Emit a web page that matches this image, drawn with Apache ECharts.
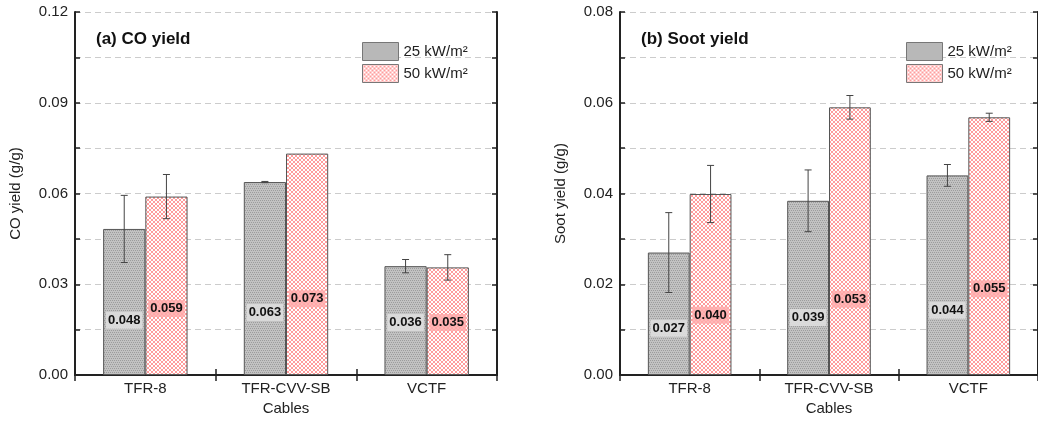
<!DOCTYPE html>
<html>
<head>
<meta charset="utf-8">
<script src="https://cdn.jsdelivr.net/npm/echarts@6/dist/echarts.min.js"></script>
<style>
html,body{margin:0;padding:0;background:#fff;}
#chart{width:1038px;height:421px;}
</style>
</head>
<body>
<div id="chart"></div>
<script>
// ---- data ----
const categories = ['TFR-8', 'TFR-CVV-SB', 'VCTF'];
const seriesNames = ['25 kW/m²', '50 kW/m²'];

// (a) CO yield
const co25 = [0.0483, 0.0638, 0.0360];
const co50 = [0.0590, 0.0732, 0.0356];
const co25Err = [0.0111, 0.0002, 0.0022];
const co50Err = [0.0073, 0, 0.0042];
const co25Labels = ['0.048', '0.063', '0.036'];
const co50Labels = ['0.059', '0.073', '0.035'];
const co25LabelAt = [0.0181, 0.0207, 0.0174];
const co50LabelAt = [0.0220, 0.0252, 0.0174];

// (b) Soot yield
const soot25 = [0.0270, 0.0384, 0.0440];
const soot50 = [0.0399, 0.0590, 0.0568];
const soot25Err = [0.0088, 0.0068, 0.0024];
const soot50Err = [0.0063, 0.0026, 0.0009];
const soot25Labels = ['0.027', '0.039', '0.044'];
const soot50Labels = ['0.040', '0.053', '0.055'];
const soot25LabelAt = [0.0103, 0.0127, 0.0143];
const soot50LabelAt = [0.0132, 0.0167, 0.0190];

// ---- patterns ----
function makePattern(bg, fg, pts) {
  const c = document.createElement('canvas');
  c.width = 4; c.height = 4;
  const ctx = c.getContext('2d');
  ctx.fillStyle = bg; ctx.fillRect(0, 0, 4, 4);
  ctx.fillStyle = fg;
  pts.forEach(p => ctx.fillRect(p[0], p[1], 1, 1));
  return c;
}
const grayPat = makePattern('#c2c2c2', '#9c9c9c', [[0,0],[2,0],[1,2],[3,2]]);
const pinkPat = makePattern('#ffffff', '#ff9c9c', [[0,0],[1,1],[2,2],[3,3],[3,0],[2,1],[1,2],[0,3]]);
const grayFill = {image: grayPat, repeat: 'repeat'};
const pinkFill = {image: pinkPat, repeat: 'repeat'};

const FONT = 'Liberation Sans, Arial, sans-serif';
const BAR_FRAC = 0.30;

function makeGrid(left) {
  return {left: left, top: 12, width: 422, height: 366, containLabel: false};
}

function yAxes(gi, max, name, nameGap) {
  const step = max / 8;
  const lbl = v => (Math.round(v / step) % 2 === 0) ? v.toFixed(2) : '';
  return [
    {
      type: 'value', gridIndex: gi, position: 'left', min: 0, max: max, interval: step,
      name: name, nameLocation: 'middle', nameGap: nameGap,
      nameTextStyle: {fontFamily: FONT, fontSize: 15, color: '#222'},
      axisLine: {show: true, lineStyle: {color: '#222', width: 2}},
      axisTick: {show: true, inside: true, length: 5, lineStyle: {color: '#222', width: 1.5}},
      axisLabel: {formatter: lbl, fontFamily: FONT, fontSize: 15, color: '#222', margin: 7},
      splitLine: {show: true, lineStyle: {color: '#cccccc', type: [6, 4], width: 1}}
    },
    {
      type: 'value', gridIndex: gi, position: 'right', min: 0, max: max, interval: step,
      axisLine: {show: true, lineStyle: {color: '#222', width: 2}},
      axisTick: {show: true, inside: true, length: 5, lineStyle: {color: '#222', width: 1.5}},
      axisLabel: {show: false},
      splitLine: {show: false}
    }
  ];
}

function xAxes(gi) {
  return [
    {
      type: 'category', gridIndex: gi, position: 'bottom', data: categories,
      name: 'Cables', nameLocation: 'middle', nameGap: 24,
      nameTextStyle: {fontFamily: FONT, fontSize: 15, color: '#222'},
      axisLine: {show: true, lineStyle: {color: '#222', width: 2}},
      axisTick: {show: true, inside: true, length: 6, lineStyle: {color: '#222', width: 1.5}},
      axisLabel: {fontFamily: FONT, fontSize: 15, color: '#222', margin: 6}
    },
    {
      type: 'category', gridIndex: gi, position: 'top', data: categories,
      axisLine: {show: true, lineStyle: {color: '#222', width: 2}},
      axisTick: {show: true, inside: true, length: 6, lineStyle: {color: '#222', width: 1.5}},
      axisLabel: {show: false}
    }
  ];
}

function barSeries(name, vals, fill, xi, yi) {
  return {
    type: 'bar', name: name, data: vals, xAxisIndex: xi, yAxisIndex: yi,
    barWidth: (BAR_FRAC * 100) + '%', barGap: '0%',
    itemStyle: {color: fill, borderColor: '#555', borderWidth: 1},
    emphasis: {disabled: true}, z: 2
  };
}

function errSeries(vals, errs, side, xi, yi) {
  return {
    type: 'custom', xAxisIndex: xi, yAxisIndex: yi, z: 5, silent: true,
    data: vals.map((v, i) => [i, v, errs[i]]),
    renderItem: function (params, api) {
      const i = api.value(0), v = api.value(1), e = api.value(2);
      if (!e) return null;
      const bw = api.size([1, 0])[0];
      const x = api.coord([i, v])[0] + side * BAR_FRAC / 2 * bw;
      const yt = api.coord([i, v + e])[1];
      const yb = api.coord([i, v - e])[1];
      const cap = 3.5;
      const st = {stroke: '#444', lineWidth: 1};
      return {type: 'group', children: [
        {type: 'line', shape: {x1: x, y1: yt, x2: x, y2: yb}, style: st},
        {type: 'line', shape: {x1: x - cap, y1: yt, x2: x + cap, y2: yt}, style: st},
        {type: 'line', shape: {x1: x - cap, y1: yb, x2: x + cap, y2: yb}, style: st}
      ]};
    }
  };
}

function labelSeries(texts, at, side, bg, xi, yi) {
  return {
    type: 'custom', xAxisIndex: xi, yAxisIndex: yi, z: 6, silent: true,
    data: at.map((v, i) => [i, v]),
    renderItem: function (params, api) {
      const i = api.value(0), v = api.value(1);
      const bw = api.size([1, 0])[0];
      const p = api.coord([i, v]);
      return {
        type: 'text',
        x: p[0] + side * BAR_FRAC / 2 * bw, y: p[1],
        style: {
          text: texts[params.dataIndex], font: 'bold 13px ' + FONT, fill: '#111',
          align: 'center', verticalAlign: 'middle',
          backgroundColor: bg, padding: [2, 2, 2, 2]
        }
      };
    }
  };
}

const chart = echarts.init(document.getElementById('chart'), null, {renderer: 'canvas'});

const legendCommon = {
  orient: 'vertical', itemWidth: 36, itemHeight: 18, itemGap: 3,
  icon: 'rect',
  itemStyle: {borderColor: '#777', borderWidth: 1},
  textStyle: {fontFamily: FONT, fontSize: 15, color: '#222'},
  data: seriesNames, selectedMode: false
};

chart.setOption({
  animation: false,
  backgroundColor: '#fff',
  title: [
    {text: '(a) CO yield', left: 91, top: 26, textStyle: {fontFamily: FONT, fontSize: 17, fontWeight: 'bold', color: '#111'}},
    {text: '(b) Soot yield', left: 636, top: 26, textStyle: {fontFamily: FONT, fontSize: 17, fontWeight: 'bold', color: '#111'}}
  ],
  legend: [
    Object.assign({left: 357, top: 37}, legendCommon),
    Object.assign({left: 901, top: 37}, legendCommon)
  ],
  grid: [makeGrid(75), makeGrid(620)],
  xAxis: [].concat(xAxes(0), xAxes(1)),
  yAxis: [].concat(yAxes(0, 0.12, 'CO yield (g/g)', 52), yAxes(1, 0.08, 'Soot yield (g/g)', 52)),
  series: [
    barSeries(seriesNames[0], co25, grayFill, 0, 0),
    barSeries(seriesNames[1], co50, pinkFill, 0, 0),
    errSeries(co25, co25Err, -1, 0, 0),
    errSeries(co50, co50Err, 1, 0, 0),
    labelSeries(co25Labels, co25LabelAt, -1, 'rgba(222,222,222,0.9)', 0, 0),
    labelSeries(co50Labels, co50LabelAt, 1, 'rgba(255,170,170,0.85)', 0, 0),
    barSeries(seriesNames[0], soot25, grayFill, 2, 2),
    barSeries(seriesNames[1], soot50, pinkFill, 2, 2),
    errSeries(soot25, soot25Err, -1, 2, 2),
    errSeries(soot50, soot50Err, 1, 2, 2),
    labelSeries(soot25Labels, soot25LabelAt, -1, 'rgba(222,222,222,0.9)', 2, 2),
    labelSeries(soot50Labels, soot50LabelAt, 1, 'rgba(255,170,170,0.85)', 2, 2)
  ]
});
</script>
</body>
</html>
